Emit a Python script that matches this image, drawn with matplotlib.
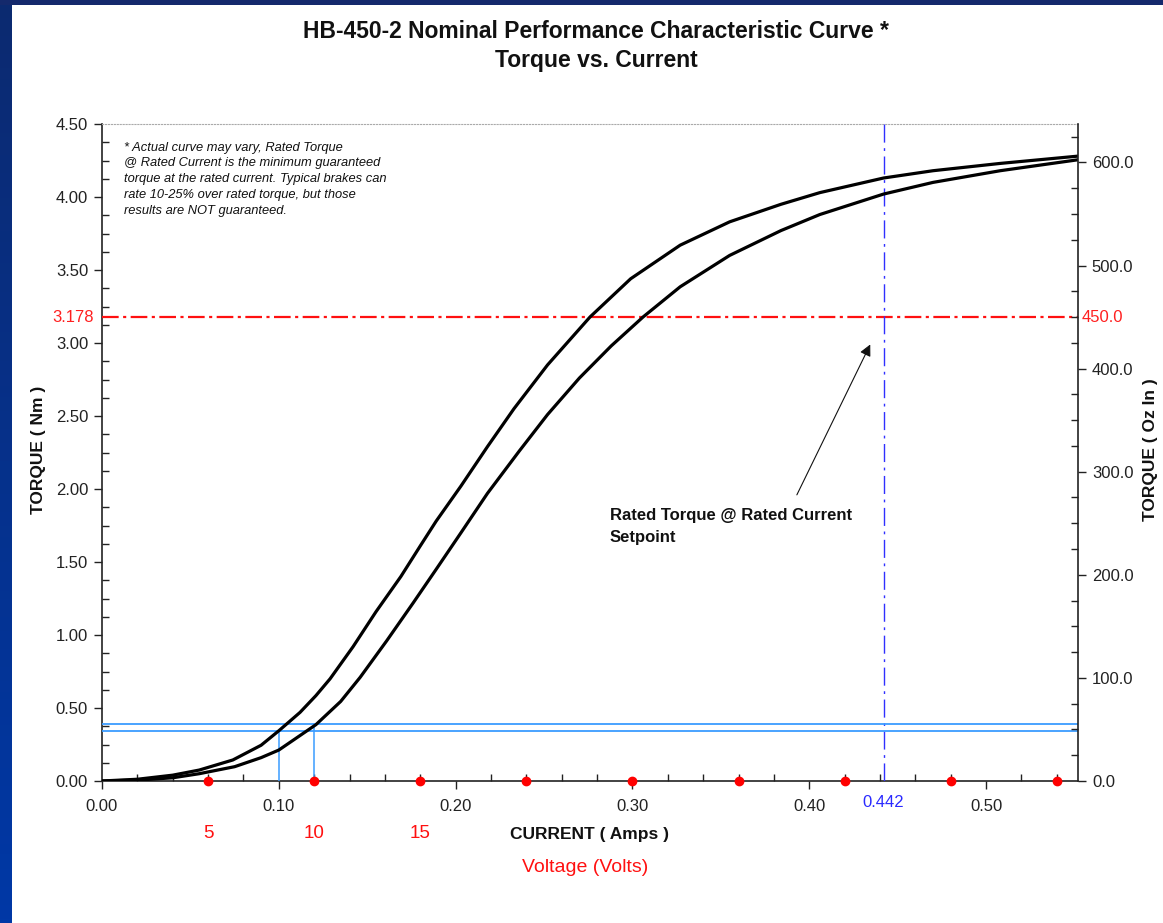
import numpy as np
import matplotlib
matplotlib.use('Agg')
import matplotlib.pyplot as plt
from matplotlib.ticker import MultipleLocator, FormatStrFormatter
import matplotlib.transforms as mtransforms

plt.rcParams['font.family'] = ['Liberation Sans', 'DejaVu Sans']

W, H = 1163, 923

# upper (left) curve
current_up = [0.000, 0.020, 0.040, 0.055, 0.074, 0.090, 0.100, 0.112, 0.121, 0.129,
              0.142, 0.155, 0.169, 0.180, 0.189, 0.203, 0.218, 0.233, 0.252, 0.276,
              0.299, 0.327, 0.355, 0.384, 0.406, 0.442, 0.470, 0.508, 0.552]
torque_up = [0.000, 0.012, 0.040, 0.075, 0.144, 0.245, 0.344, 0.470, 0.585, 0.700,
             0.920, 1.160, 1.400, 1.610, 1.780, 2.020, 2.290, 2.550, 2.850, 3.178,
             3.440, 3.670, 3.830, 3.950, 4.030, 4.130, 4.180, 4.230, 4.280]

# lower (right) curve
current_lo = [0.000, 0.020, 0.040, 0.055, 0.075, 0.090, 0.100, 0.121, 0.135, 0.146,
              0.161, 0.176, 0.189, 0.203, 0.218, 0.236, 0.252, 0.270, 0.288, 0.306,
              0.327, 0.355, 0.384, 0.406, 0.442, 0.470, 0.508, 0.552]
torque_lo = [0.000, 0.006, 0.022, 0.050, 0.098, 0.160, 0.212, 0.386, 0.545, 0.710,
             0.960, 1.220, 1.450, 1.700, 1.970, 2.260, 2.510, 2.760, 2.980, 3.178,
             3.385, 3.600, 3.770, 3.880, 4.020, 4.100, 4.180, 4.255]

volt_current = [0.06, 0.12, 0.18, 0.24, 0.30, 0.36, 0.42, 0.48, 0.54]
volt_labels = ['5', '10', '15']

rated_torque = 3.178
rated_ozin = 450.0
rated_current = 0.442
low_currents = [0.10, 0.12]
low_torques = [0.344, 0.388]

NM_TO_OZIN = 141.612

note = ("* Actual curve may vary, Rated Torque\n"
        "@ Rated Current is the minimum guaranteed\n"
        "torque at the rated current. Typical brakes can\n"
        "rate 10-25% over rated torque, but those\n"
        "results are NOT guaranteed.")


def fx(px):
    return px / W


def fy(py):
    return 1 - py / H


fig = plt.figure(figsize=(W / 100, H / 100), dpi=100)
fig.patch.set_facecolor('white')

# blue slide frame on the left and top
strip = fig.add_axes([0, 0, fx(12), 1])
grad = np.linspace(0, 1, 256).reshape(-1, 1)
strip.imshow(grad, aspect='auto', cmap=matplotlib.colors.LinearSegmentedColormap.from_list(
    'b', ['#0c2a70', '#0038a6']), extent=[0, 1, 0, 1], origin='upper')
strip.axis('off')
top = fig.add_axes([0, fy(5), 1, 5 / H])
top.set_facecolor('#14296c')
top.set_xticks([]); top.set_yticks([])
for s in top.spines.values():
    s.set_visible(False)

ax = fig.add_axes([fx(102), fy(781), fx(1078 - 102), (781 - 124) / H])
ax.set_xlim(0, 0.552)
ax.set_ylim(0, 4.5)

for cur, tq in [(current_up, torque_up), (current_lo, torque_lo)]:
    ax.plot(cur, tq, color='black', lw=2.3, solid_capstyle='round',
            solid_joinstyle='round', zorder=4)

# setpoint lines
ax.axhline(rated_torque, color='#ff1010', lw=1.6, dashes=(7.5, 2.0, 1.4, 2.0), zorder=3)
ax.axvline(rated_current, color='#3030ff', lw=1.0, dashes=(13, 4, 2, 4), zorder=3)
for c, t in zip(low_currents, low_torques):
    ax.axhline(t, color='#3b9cff', lw=1.3, zorder=3)
    ax.plot([c, c], [0, t], color='#3b9cff', lw=1.1, zorder=3)

ax.plot(volt_current, [0] * len(volt_current), 'o', color='#ff0000', ms=6,
        clip_on=False, zorder=6)

# axes styling
ax.xaxis.set_major_locator(MultipleLocator(0.1))
ax.xaxis.set_minor_locator(MultipleLocator(0.02))
ax.yaxis.set_major_locator(MultipleLocator(0.5))
ax.yaxis.set_minor_locator(MultipleLocator(0.125))
ax.xaxis.set_major_formatter(FormatStrFormatter('%.2f'))
ax.yaxis.set_major_formatter(FormatStrFormatter('%.2f'))
ax.tick_params(which='major', direction='out', length=6, width=1, colors='#222222',
               labelsize=12, pad=4)
ax.tick_params(which='minor', direction='in', length=5, width=1, colors='#222222')
ax.tick_params(axis='x', which='major', pad=7)
for side in ['left', 'bottom']:
    ax.spines[side].set_color('#222222')
    ax.spines[side].set_linewidth(1.2)
ax.spines['right'].set_visible(False)
ax.spines['top'].set_color('#aaaaaa')
ax.spines['top'].set_linewidth(0.8)
ax.spines['top'].set_linestyle(':')

ax2 = ax.twinx()
ax2.set_ylim(0, 4.5 * NM_TO_OZIN)
ax2.yaxis.set_major_locator(MultipleLocator(100))
ax2.yaxis.set_minor_locator(MultipleLocator(25))
ax2.yaxis.set_major_formatter(FormatStrFormatter('%.1f'))
ax2.tick_params(which='major', direction='out', length=6, width=1, colors='#222222',
                labelsize=12, pad=4)
ax2.tick_params(which='minor', direction='in', length=5, width=1, colors='#222222')
ax2.spines['right'].set_color('#222222')
ax2.spines['right'].set_linewidth(1.2)
for side in ['left', 'top', 'bottom']:
    ax2.spines[side].set_visible(False)

# red / blue value labels
ax.text(-0.0045, rated_torque, '%.3f' % rated_torque, color='#ff2020', fontsize=12,
        ha='right', va='center')
ax2.text(1.004, rated_ozin, '%.1f' % rated_ozin, color='#ff2020', fontsize=12,
         ha='left', va='center', transform=mtransforms.blended_transform_factory(
             ax2.transAxes, ax2.transData))
ax.text(rated_current, -0.15, '%.3f' % rated_current, color='#2a2aff', fontsize=12,
        ha='center', va='center')

bt = mtransforms.blended_transform_factory(ax.transData, fig.transFigure)
for c, lab in zip(volt_current, volt_labels):
    ax.text(c, fy(834), lab, color='#ff1010', fontsize=13.5, ha='center', va='center',
            transform=bt)

ax.text(0.2873, 1.87, 'Rated Torque @ Rated Current\nSetpoint', fontsize=12,
        fontweight='bold', ha='left', va='top', linespacing=1.55, color='#111111')
ax.annotate('', xy=(0.4345, 2.99), xytext=(0.393, 1.96),
            arrowprops=dict(arrowstyle='-|>', color='#111111', lw=0.8,
                            mutation_scale=17, shrinkA=0, shrinkB=0))

ax.text(0.0125, 4.38, note, fontsize=9.3, fontstyle='italic', ha='left', va='top',
        linespacing=1.42, color='#111111')

# titles and axis labels
fig.text(fx(596), fy(31), 'HB-450-2 Nominal Performance Characteristic Curve *',
         fontsize=16.5, fontweight='bold', ha='center', va='center', color='#111111')
fig.text(fx(596), fy(61), 'Torque vs. Current', fontsize=16.5, fontweight='bold',
         ha='center', va='center', color='#111111')
fig.text(fx(590), fy(835), 'CURRENT ( Amps )', fontsize=12.5, fontweight='bold',
         ha='center', va='center', color='#111111')
fig.text(fx(585), fy(867), 'Voltage (Volts)', fontsize=14, color='#ff1010',
         ha='center', va='center')
fig.text(fx(38), fy(450), 'TORQUE ( Nm )', fontsize=12.5, fontweight='bold',
         rotation=90, ha='center', va='center', color='#111111')
fig.text(fx(1150), fy(450), 'TORQUE ( Oz In )', fontsize=12.5, fontweight='bold',
         rotation=90, ha='center', va='center', color='#111111')

fig.savefig('out.png', dpi=100, facecolor=fig.get_facecolor())
